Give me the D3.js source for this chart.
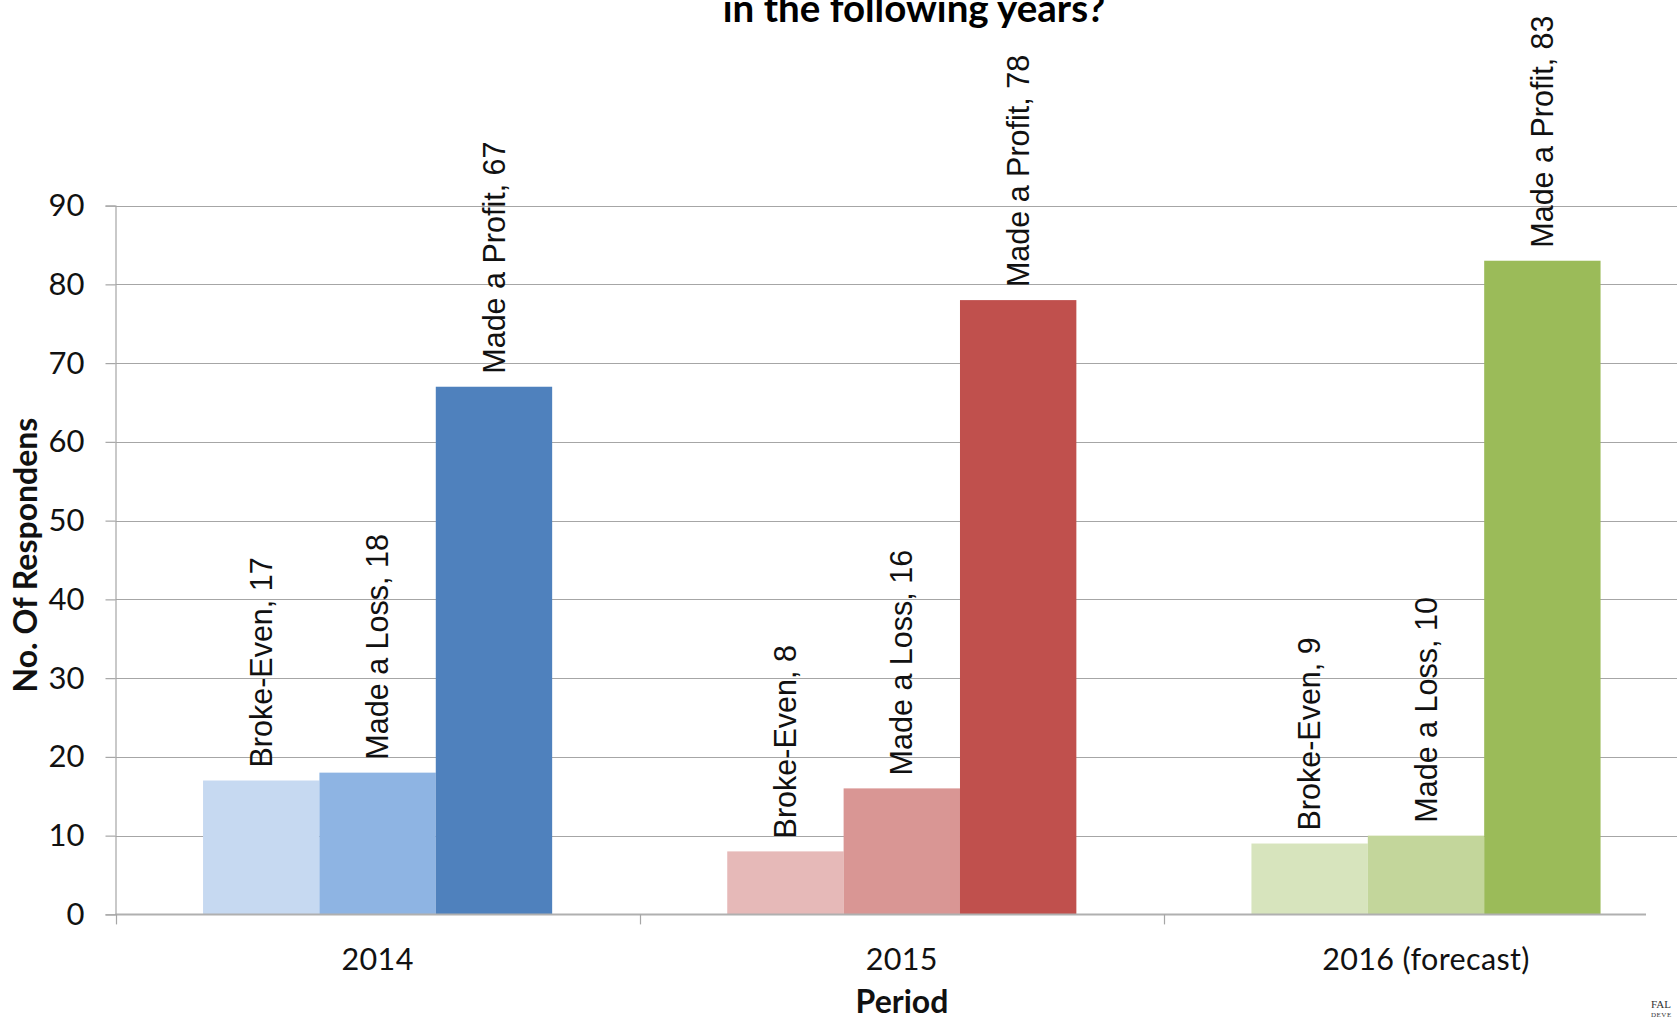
<!DOCTYPE html>
<html>
<head>
<meta charset="utf-8">
<script src="https://cdn.jsdelivr.net/npm/d3@7"></script>
<style>
  html, body { margin: 0; padding: 0; background: #ffffff; }
  svg { display: block; }
</style>
</head>
<body>
<svg id="chart" width="1677" height="1020"></svg>
<script>
// ---- data ----
const categories = ["2014", "2015", "2016 (forecast)"];
const seriesNames = ["Broke-Even", "Made a Loss", "Made a Profit"];
const brokeEven = [17, 8, 9];
const madeALoss = [18, 16, 10];
const madeAProfit = [67, 78, 83];
const yTicks = [0, 10, 20, 30, 40, 50, 60, 70, 80, 90];
const titleText = "in the following years?";
const yAxisTitle = "No. Of Respondens";
const xAxisTitle = "Period";
// colours per category (light, mid, dark)
const palette = [
  ["#C6D9F1", "#8EB4E3", "#4F81BD"],
  ["#E6B9B8", "#D99694", "#C0504D"],
  ["#D7E4BD", "#C3D69B", "#9BBB59"]
];

const seriesValues = [brokeEven, madeALoss, madeAProfit];
const rows = [];
categories.forEach((c, ci) => {
  seriesNames.forEach((s, si) => {
    rows.push({ cat: c, ci, series: s, si, value: seriesValues[si][ci] });
  });
});

// ---- layout ----
const svg = d3.select("#chart");
const plotLeft = 115.5, plotTop = 205.6, plotBottom = 914.4;
const step = 524.2;
const plotRight = plotLeft + step * categories.length;

const x0 = d3.scaleBand().domain(categories)
  .range([plotLeft, plotRight])
  .paddingInner(0.334).paddingOuter(0.167);
const x1 = d3.scaleBand().domain(seriesNames)
  .range([0, x0.bandwidth()]).padding(0);
const y = d3.scaleLinear().domain([0, 90]).range([plotBottom, plotTop]);

// gridlines
svg.append("g")
  .selectAll("line")
  .data(yTicks.filter(d => d > 0))
  .join("line")
  .attr("x1", plotLeft).attr("x2", 1677)
  .attr("y1", d => Math.round(y(d)) + 0.5).attr("y2", d => Math.round(y(d)) + 0.5)
  .attr("stroke", "#a6a6a6").attr("stroke-width", 1.2);

// bars
svg.append("g")
  .selectAll("rect")
  .data(rows)
  .join("rect")
  .attr("x", d => x0(d.cat) + x1(d.series))
  .attr("y", d => y(d.value))
  .attr("width", x1.bandwidth())
  .attr("height", d => y(0) - y(d.value))
  .attr("fill", d => palette[d.ci][d.si]);

// baseline
svg.append("line")
  .attr("x1", plotLeft).attr("x2", 1646)
  .attr("y1", plotBottom).attr("y2", plotBottom)
  .attr("stroke", "#b0b0b0").attr("stroke-width", 2);

// category boundary ticks
svg.append("g")
  .selectAll("line")
  .data(d3.range(categories.length))
  .join("line")
  .attr("x1", i => Math.round(x0.range()[0] + i * x0.step()) + 0.5)
  .attr("x2", i => Math.round(x0.range()[0] + i * x0.step()) + 0.5)
  .attr("y1", plotBottom).attr("y2", plotBottom + 10)
  .attr("stroke", "#a6a6a6").attr("stroke-width", 1.2);

// y axis
const yAxis = svg.append("g")
  .attr("transform", `translate(${plotLeft},0)`)
  .call(d3.axisLeft(y).tickValues(yTicks).tickSize(10).tickPadding(21));
yAxis.select(".domain").attr("stroke", "#a6a6a6").attr("stroke-width", 1.2);
yAxis.selectAll(".tick line").attr("stroke", "#a6a6a6").attr("stroke-width", 1.2);
yAxis.selectAll(".tick text")
  .attr("font-family", "Lato, 'Open Sans', sans-serif")
  .attr("font-size", 31).attr("fill", "#111");

// x axis labels
const xAxis = svg.append("g")
  .attr("transform", `translate(0,${plotBottom})`)
  .call(d3.axisBottom(x0).tickSize(0).tickPadding(34));
xAxis.select(".domain").remove();
xAxis.selectAll(".tick text")
  .attr("font-family", "Lato, 'Open Sans', sans-serif")
  .attr("font-size", 30.5).attr("letter-spacing", 0.35).attr("fill", "#111");

// data labels
svg.append("g")
  .selectAll("text")
  .data(rows)
  .join("text")
  .attr("transform", d => {
    const cx = x0(d.cat) + x1(d.series) + x1.bandwidth() / 2;
    const ty = y(d.value) - 13;
    return `translate(${cx},${ty}) rotate(-90)`;
  })
  .attr("dy", "0.35em")
  .attr("text-anchor", "start")
  .attr("font-family", "'Liberation Sans', Arial, sans-serif")
  .attr("font-size", 30.5)
  .attr("fill", "#111")
  .text(d => `${d.series}, ${d.value}`);

// title (second line of a title that is cut off at the top, as in the original)
svg.append("text")
  .attr("x", 914).attr("y", 22)
  .attr("text-anchor", "middle")
  .attr("font-family", "Lato, 'Open Sans', sans-serif")
  .attr("font-weight", "bold")
  .attr("font-size", 38.5)
  .attr("fill", "#000")
  .text(titleText);

// axis titles
svg.append("text")
  .attr("x", 902).attr("y", 1013)
  .attr("text-anchor", "middle")
  .attr("font-family", "Lato, 'Open Sans', sans-serif")
  .attr("font-weight", "bold")
  .attr("font-size", 32)
  .attr("fill", "#111")
  .text(xAxisTitle);

svg.append("text")
  .attr("transform", "translate(37,555) rotate(-90)")
  .attr("text-anchor", "middle")
  .attr("font-family", "Lato, 'Open Sans', sans-serif")
  .attr("font-weight", "bold")
  .attr("font-size", 32)
  .attr("fill", "#111")
  .text(yAxisTitle);

// corner watermark (cut off at edge)
svg.append("text")
  .attr("x", 1651).attr("y", 1008)
  .attr("font-family", "'Liberation Serif', serif")
  .attr("font-size", 11).attr("fill", "#333")
  .text("FAL");
svg.append("text")
  .attr("x", 1651).attr("y", 1017)
  .attr("font-family", "'Liberation Serif', serif")
  .attr("font-size", 7).attr("fill", "#333")
  .attr("letter-spacing", 0.5)
  .text("DEVE");
</script>
</body>
</html>
